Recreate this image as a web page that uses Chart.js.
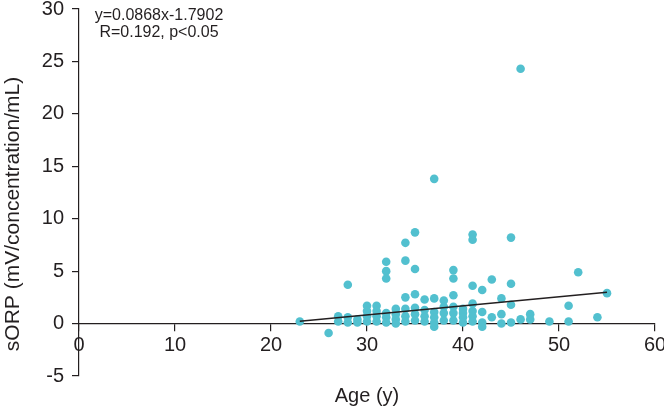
<!DOCTYPE html>
<html>
<head>
<meta charset="utf-8">
<script src="https://cdn.jsdelivr.net/npm/chart.js@4.4.1/dist/chart.umd.min.js"></script>
<style>
  html, body { margin: 0; padding: 0; background: #fff; }
  #wrap { width: 664px; height: 409px; }
</style>
</head>
<body>
<div id="wrap"><canvas id="chart" width="664" height="409"></canvas></div>
<script>
// age (years) and sORP values
const ages = [
  23, 26, 27, 27, 28, 28, 28, 29, 29,
  30, 30, 30, 30, 31, 31, 31, 31,
  32, 32, 32, 32, 32, 32, 33, 33, 33, 33,
  34, 34, 34, 34, 34, 34, 35, 35, 35, 35, 35, 35,
  36, 36, 36, 36, 37, 37, 37, 37, 37, 37,
  38, 38, 38, 38, 39, 39, 39, 39, 39, 39,
  40, 40, 40, 40, 41, 41, 41, 41, 41, 41, 41,
  42, 42, 42, 42, 43, 43, 44, 44, 44,
  45, 45, 45, 45, 46, 46, 47, 47, 49, 51, 51, 52, 54, 55
];
const sorp = [
  0.2, -0.9, 0.7, 0.2, 3.7, 0.6, 0.1, 0.4, 0.1,
  1.7, 1.2, 0.7, 0.2, 1.7, 1.2, 0.7, 0.2,
  5.9, 5.0, 4.3, 1.0, 0.6, 0.1, 1.4, 0.9, 0.4, 0.0,
  7.7, 6.0, 2.5, 1.4, 0.7, 0.2, 8.7, 5.2, 2.8, 1.5, 0.9, 0.3,
  2.3, 1.3, 0.7, 0.2, 13.8, 2.4, 1.1, 0.6, 0.1, -0.3,
  2.2, 1.6, 1.0, 0.3, 5.1, 4.3, 2.7, 1.6, 1.0, 0.3,
  1.4, 1.0, 0.6, 0.1, 8.5, 8.0, 3.6, 1.9, 1.2, 0.7, 0.2,
  3.2, 1.1, 0.1, -0.3, 4.2, 0.6, 2.4, 0.9, 0.0,
  8.2, 3.8, 1.8, 0.1, 24.3, 0.4, 0.9, 0.4, 0.2, 1.7, 0.2, 4.9, 0.6, 2.9
];

// regression line end points
const fitAges = [23, 55];
const fitSorp = [0.21, 2.98];

const xTicks = [0, 10, 20, 30, 40, 50, 60];
const yTicks = [-5, 0, 5, 10, 15, 20, 25, 30];

const equation = 'y=0.0868x-1.7902';
const stats = 'R=0.192, p<0.05';
const xTitle = 'Age (y)';
const yTitle = 'sORP (mV/concentration/mL)';

const ink = '#231f20';
const dotColor = '#52c0cf';
const FONT = '"Liberation Sans", Arial, Helvetica, sans-serif';

const points = ages.map((a, i) => ({ x: a, y: sorp[i] }));
const fitPoints = fitAges.map((a, i) => ({ x: a, y: fitSorp[i] }));

// titles and the equation box are drawn straight onto the canvas
const textPlugin = {
  id: 'texts',
  afterDraw(chart) {
    const ctx = chart.ctx;
    ctx.save();
    ctx.fillStyle = ink;
    ctx.textAlign = 'center';
    ctx.textBaseline = 'middle';

    ctx.font = '16px ' + FONT;
    ctx.fillText(equation, 159, 16);
    ctx.fillText(stats, 159, 33);

    ctx.font = '20px ' + FONT;
    ctx.fillText(xTitle, 367, 396);

    ctx.translate(13, 214);
    ctx.rotate(-Math.PI / 2);
    ctx.font = '21px ' + FONT;
    ctx.fillText(yTitle, 0, 0);
    ctx.restore();
  }
};

new Chart(document.getElementById('chart'), {
  type: 'scatter',
  data: {
    datasets: [
      {
        type: 'line',
        data: fitPoints,
        borderColor: ink,
        borderWidth: 1.5,
        pointRadius: 0,
        fill: false
      },
      {
        data: points,
        backgroundColor: dotColor,
        borderWidth: 0,
        pointRadius: 4.3
      }
    ]
  },
  options: {
    responsive: false,
    animation: false,
    layout: { padding: { top: 9, right: 9, bottom: 33, left: 0 } },
    plugins: {
      legend: { display: false },
      tooltip: { enabled: false }
    },
    scales: {
      x: {
        type: 'linear',
        position: { y: 0 },
        min: 0,
        max: 60,
        afterBuildTicks: s => { s.ticks = xTicks.map(v => ({ value: v })); },
        afterFit: s => { s.paddingLeft = 0; s.paddingRight = 0; },
        grid: { drawOnChartArea: false, color: ink, tickLength: 7, lineWidth: 1.2 },
        border: { color: ink, width: 1.2 },
        ticks: { color: ink, padding: 3, maxRotation: 0, font: { family: FONT, size: 20 } }
      },
      y: {
        type: 'linear',
        min: -5,
        max: 30,
        afterBuildTicks: s => { s.ticks = yTicks.map(v => ({ value: v })); },
        afterFit: s => { s.width = 79; s.paddingTop = 0; s.paddingBottom = 0; },
        grid: { drawOnChartArea: false, color: ink, tickLength: 7, lineWidth: 1.2 },
        border: { color: ink, width: 1.2 },
        ticks: { color: ink, padding: 8, font: { family: FONT, size: 20 } }
      }
    }
  },
  plugins: [textPlugin]
});
</script>
</body>
</html>
